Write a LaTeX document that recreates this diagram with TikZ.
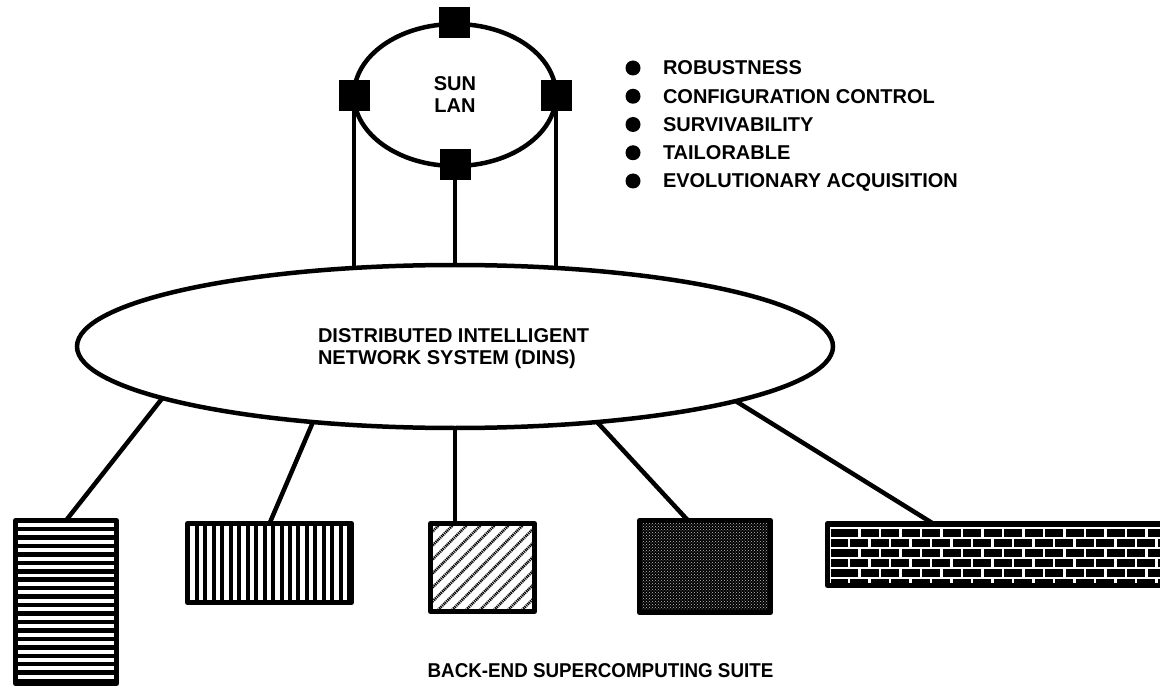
\documentclass[tikz,border=0pt]{standalone}
\usepackage{fontspec}
\setmainfont{Liberation Sans}
\usetikzlibrary{shapes.geometric,patterns,backgrounds}
\begin{document}
\begin{tikzpicture}[x=1pt,y=-1pt,
  lbl/.style={font=\fontsize{20}{22}\selectfont\bfseries, inner sep=0pt, outer sep=0pt},
  ring/.style={ellipse, draw, fill=white, line width=4.5pt, inner sep=0pt, outer sep=0pt},
  sq/.style={rectangle, fill=black, minimum size=31pt, inner sep=0pt, outer sep=0pt},
  wire/.style={line width=4.5pt},
  bulletdot/.style={circle, fill=black, minimum size=15pt, inner sep=0pt},
  compbox/.style={rectangle, inner sep=0pt, outer sep=0pt},
  boxline/.style={line width=5pt, line join=round},
]
\useasboundingbox (0,0) rectangle (1160,687);

% SUN LAN ring
\node[ring, lbl, align=center, minimum width=202pt, minimum height=142pt] (sun) at (455,95) {SUN\\LAN};
\node[sq] (sqT) at (454,23) {};
\node[sq] (sqL) at (354,96) {};
\node[sq] (sqR) at (556,96) {};
\node[sq] (sqB) at (455,165) {};

% bullet list
\foreach \t [count=\i from 0] in {ROBUSTNESS,CONFIGURATION CONTROL,SURVIVABILITY,TAILORABLE,EVOLUTIONARY ACQUISITION}{
  \node[bulletdot] (b\i) at (633,{68+28.25*\i}) {};
  \node[lbl, anchor=base west] (t\i) at (663,{75+28.25*\i}) {\t};
}

% DINS
\node[ring, minimum width=756pt, minimum height=163pt] (dins) at (455,346.5) {};
\node[lbl, anchor=north west, align=left] (dinstext) at (318,328.5) {DISTRIBUTED INTELLIGENT\\NETWORK SYSTEM (DINS)};

% back-end boxes
\node[compbox, minimum width=101pt, minimum height=163pt] (box1) at (66,602) {};
\node[compbox, minimum width=164pt, minimum height=79pt] (box2) at (269.5,563) {};
\node[compbox, minimum width=104pt, minimum height=88pt] (box3) at (482.5,567.5) {};
\node[compbox, minimum width=131pt, minimum height=92pt] (box4) at (705,566.5) {};
\node[compbox, minimum width=348pt, minimum height=62pt] (box5) at (1001.5,554.5) {};

\begin{scope}
  \clip (box1.north west) rectangle (box1.south east);
  \foreach \k in {0,...,19} \draw[line width=4.5pt] (0,{529+8.45*\k}) -- (140,{529+8.45*\k});
\end{scope}
\begin{scope}
  \clip (box2.north west) rectangle (box2.south east);
  \foreach \k in {0,...,19} \draw[line width=4pt] ({197+8.45*\k},500) -- ({197+8.45*\k},620);
\end{scope}
\begin{scope}
  \clip (box3.north west) rectangle (box3.south east);
  \foreach \k in {0,...,16} \draw[line width=2.6pt, dash pattern=on 1.2pt off 0.8pt] ({330+14*\k},620) -- ({440+14*\k},510);
\end{scope}
\begin{scope}
  \clip (box4.north west) rectangle (box4.south east);
  \fill[black] (box4.north west) rectangle (box4.south east);
  \fill[pattern=crosshatch dots, pattern color=white!75!black] (box4.north west) rectangle (box4.south east);
\end{scope}
\begin{scope}
  \clip (box5.north west) rectangle (box5.south east);
  \fill[black] (box5.north west) rectangle (box5.south east);
  \foreach \r in {0,...,5} \draw[white, line width=2pt] (825,{528+10*\r}) -- (1200,{528+10*\r});
  \draw[white, line width=2.5pt] (830,527) -- (830,584);
  \foreach \r in {0,...,5} \foreach \j in {0,...,16}
    \draw[white, line width=2.5pt] ({859.3-10.25*mod(\r,2)+20.5*\j},{528+10*\r}) -- ++(0,10);
\end{scope}
\foreach \b in {box1,box2,box3,box4,box5} \draw[boxline] (\b.north west) rectangle (\b.south east);

\node[lbl, anchor=base] (suite) at (600.5,677) {\scalebox{0.94}[1]{BACK-END SUPERCOMPUTING SUITE}};

% connectors (behind the white ellipses)
\begin{scope}[on background layer]
  \fill[white] (0,0) rectangle (1160,687);
  \draw[wire] (sqL.south) -- (sqL.south |- dins.center);
  \draw[wire] (sqB.south) -- (sqB.south |- dins.center);
  \draw[wire] (sqR.south) -- (sqR.south |- dins.center);
  \draw[wire] (dins.190) -- (box1.north);
  \draw[wire] (dins.208) -- (box2.north);
  \draw[wire] (dins.south) -- ([xshift=24.5pt]box3.north west);
  \draw[wire] (dins.332.5) -- ([xshift=-17pt]box4.north);
  \draw[wire] (dins.349) -- ([xshift=105.5pt]box5.north west);
\end{scope}
\end{tikzpicture}
\end{document}
